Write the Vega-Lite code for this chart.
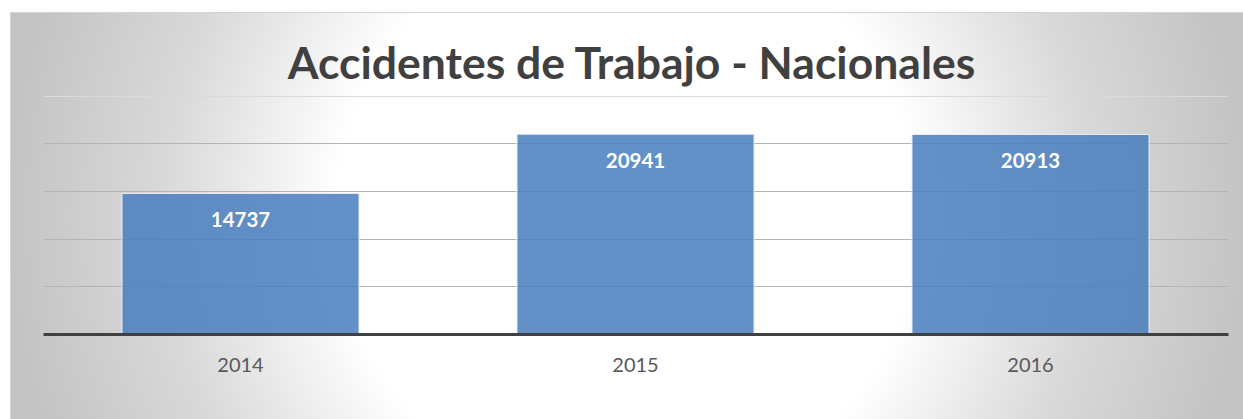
{
  "$schema": "https://vega.github.io/schema/vega-lite/v6.json",
  "width": 1243,
  "height": 419,
  "autosize": {"type": "fit", "contains": "padding"},
  "padding": {"left": 10, "top": 12, "right": 0, "bottom": 0},
  "background": "#ffffff",
  "title": {
    "text": "Accidentes de Trabajo - Nacionales",
    "orient": "top",
    "anchor": "middle",
    "frame": "group",
    "offset": -111,
    "baseline": "alphabetic",
    "font": "Lato",
    "fontSize": 44.5,
    "fontWeight": "bold",
    "color": "#404040",
    "dx": 5
  },
  "config": {
    "view": {
      "fill": {
        "gradient": "radial",
        "x1": 0.5, "y1": 0.5, "r1": 0,
        "x2": 0.5, "y2": 0.5, "r2": 0.5,
        "stops": [
          {"offset": 0, "color": "#ffffff"},
          {"offset": 0.47, "color": "#ffffff"},
          {"offset": 0.75, "color": "#d9d9d9"},
          {"offset": 1, "color": "#c4c4c4"}
        ]
      },
      "stroke": "#d4d4d4",
      "strokeWidth": 1
    }
  },
  "data": {
    "values": [
      {"year": "2014", "value": 14737},
      {"year": "2015", "value": 20941},
      {"year": "2016", "value": 20913}
    ]
  },
  "encoding": {
    "x": {
      "field": "year",
      "type": "nominal",
      "sort": null,
      "scale": {"range": [33, 1218], "paddingInner": 0.4, "paddingOuter": 0.2},
      "axis": {
        "title": null,
        "orient": "bottom",
        "offset": -85,
        "ticks": false,
        "domain": true,
        "domainColor": "#404040",
        "domainWidth": 3,
        "labelFont": "Lato",
        "labelFontSize": 20,
        "labelColor": "#595959",
        "labelPadding": 21,
        "labelAngle": 0,
        "grid": false,
        "zindex": 1
      }
    },
    "y": {
      "field": "value",
      "type": "quantitative",
      "scale": {"domain": [0, 25000], "range": [322, 83.5], "nice": false},
      "axis": {
        "title": null,
        "labels": false,
        "ticks": false,
        "domain": false,
        "grid": true,
        "values": [0, 5000, 10000, 15000, 20000, 25000],
        "gridColor": {"condition": {"test": "datum.value >= 25000", "value": "#dadada"}, "value": "#b4b4b4"},
        "gridWidth": 1
      }
    }
  },
  "layer": [
    {
      "mark": {"type": "bar", "fill": "#477cbd", "fillOpacity": 0.85, "stroke": "#e6ecf5", "strokeWidth": 1}
    },
    {
      "mark": {"type": "text", "dy": 28, "baseline": "middle", "font": "Lato", "fontSize": 20.5, "fontWeight": "bold", "fill": "#ffffff"},
      "encoding": {"text": {"field": "value", "type": "quantitative", "format": "d"}}
    }
  ]
}
